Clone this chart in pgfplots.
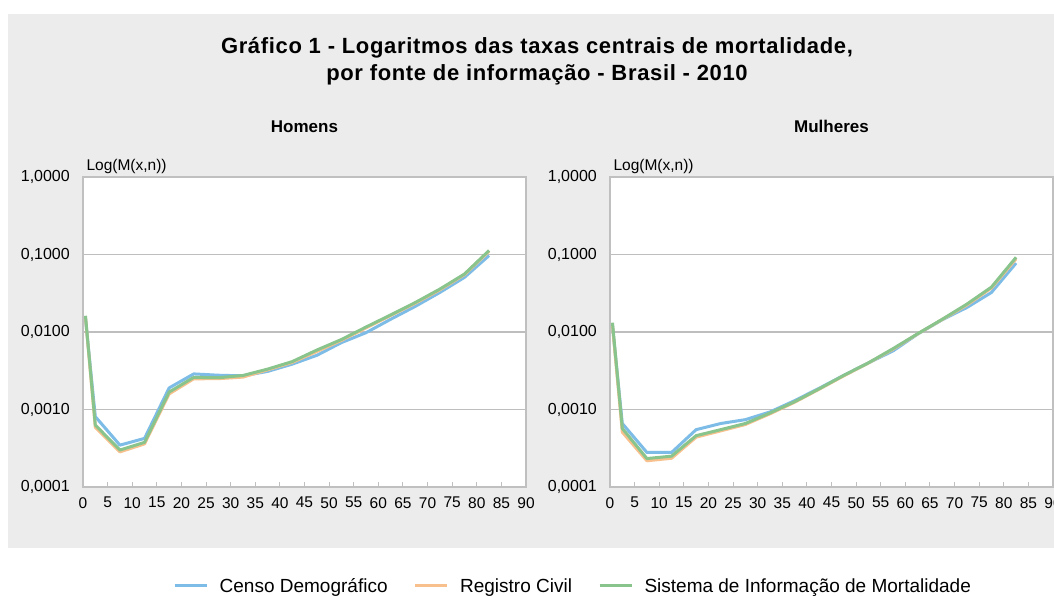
\documentclass[border=0pt]{standalone}
\usepackage{fontspec}
\setmainfont{Liberation Sans}
\newfontfamily\titlefont[LetterSpace=3]{Liberation Sans}
\usepackage{pgfplots}
\usepackage{pgfplotstable}
\pgfplotsset{compat=1.18}
\definecolor{bg}{HTML}{EBECEB}
\definecolor{cblue}{HTML}{7DBCE6}
\definecolor{corange}{HTML}{F8C08C}
\definecolor{cgreen}{HTML}{88C48C}
\definecolor{gridc}{HTML}{BEBEBE}
\definecolor{axc}{HTML}{C0C0C0}

\pgfplotstableread{
x censo registro sim
0.5 0.0150 0.0155 0.0162
2.5 0.00081 0.00059 0.00063
7.5 0.000347 0.000284 0.000300
12.5 0.000424 0.000360 0.000377
17.5 0.00190 0.00159 0.00168
22.5 0.00288 0.00249 0.00260
27.5 0.00277 0.00250 0.00257
32.5 0.00272 0.00262 0.00275
37.5 0.00310 0.00325 0.00332
42.5 0.00385 0.00405 0.00415
47.5 0.00500 0.00560 0.00585
52.5 0.00730 0.00780 0.00800
57.5 0.00980 0.01130 0.01160
62.5 0.01460 0.01630 0.01660
67.5 0.02140 0.02350 0.02400
72.5 0.03240 0.03500 0.03580
77.5 0.05070 0.05500 0.05600
82.5 0.09700 0.11000 0.11270
}\homens

\pgfplotstableread{
x censo registro sim
0.5 0.0120 0.0122 0.0132
2.5 0.00066 0.00051 0.00057
7.5 0.000279 0.000218 0.000233
12.5 0.000279 0.000235 0.000250
17.5 0.00055 0.00044 0.00046
22.5 0.00066 0.00053 0.00055
27.5 0.00074 0.00064 0.00066
32.5 0.00093 0.00088 0.00090
37.5 0.00130 0.00124 0.00126
42.5 0.00188 0.00183 0.00185
47.5 0.00276 0.00272 0.00276
52.5 0.00400 0.00398 0.00400
57.5 0.00570 0.00600 0.00610
62.5 0.00940 0.00945 0.00950
67.5 0.01440 0.01450 0.01460
72.5 0.02070 0.02230 0.02290
77.5 0.03240 0.03700 0.03800
82.5 0.07750 0.08800 0.09200
}\mulheres

\pgfplotsset{every axis/.append style={
  scale only axis, width=443pt, height=310pt,
  xmin=0, xmax=90, ymin=1e-4, ymax=1,
  xtick={0,5,...,90},
  ytick={1e-4,1e-3,1e-2,1e-1,1},
  yticklabels={{0,0001},{0,0010},{0,0100},{0,1000},{1,0000}},
  /pgf/number format/assume math mode=true,
  axis background/.style={fill=white},
  axis line style={axc, line width=1.2pt},
  ymajorgrids, major grid style={gridc, line width=1.2pt},
  tick align=inside, tick pos=left,
  major tick length=5pt,
  ytick style={draw=none},
  xtick style={axc, line width=1pt},
  yticklabel style={font=\fontsize{16}{16}\selectfont, anchor=east, inner sep=0pt, xshift=-13pt},
  xticklabel style={font=\fontsize{15.5}{15.5}\selectfont, anchor=north, inner sep=0pt, yshift=-10pt},
  ylabel={Log(M(x,n))},
}}

\begin{document}
\begin{tikzpicture}
\fill[bg] (8pt,-14pt) rectangle (1060pt,-548pt);
\node[anchor=base, font=\titlefont\bfseries\fontsize{22}{22}\selectfont] at (537pt,-53pt) {Gráfico 1 - Logaritmos das taxas centrais de mortalidade,};
\node[anchor=base, font=\titlefont\bfseries\fontsize{22}{22}\selectfont] at (537pt,-80pt) {por fonte de informação - Brasil - 2010};

\begin{axis}[ymode=log, anchor=south west, at={(83pt,-487pt)}, title={Homens},
  every axis y label/.style={at={(rel axis cs:0,1)}, anchor=base west, yshift=7pt, font=\fontsize{15.5}{15.5}\selectfont},
  every axis title/.style={at={(rel axis cs:0.5,1)}, anchor=base, yshift=45pt, font=\bfseries\fontsize{17}{17}\selectfont},
  legend columns=3,
  legend style={at={(rel axis cs:0.2032,-0.319)}, anchor=west, draw=none, fill=none,
    inner sep=0pt, font=\fontsize{19}{19}\selectfont,
    /tikz/every even column/.append style={column sep=24pt}},
  legend image code/.code={\draw[#1, line width=3pt] (0pt,0pt) -- (32pt,0pt); \path[draw=none, fill=none] (0pt,0pt) -- (43pt,0pt);},
]
\addplot[cblue, line width=3pt, line join=round, no markers] table[x=x, y=censo] {\homens};
\addplot[corange, line width=3pt, line join=round, no markers] table[x=x, y=registro] {\homens};
\addplot[cgreen, line width=3pt, line join=round, no markers] table[x=x, y=sim] {\homens};
\legend{Censo Demográfico, Registro Civil, Sistema de Informação de Mortalidade}
\end{axis}

\begin{axis}[ymode=log, anchor=south west, at={(610pt,-487pt)}, title={Mulheres},
  every axis y label/.style={at={(rel axis cs:0,1)}, anchor=base west, yshift=7pt, font=\fontsize{15.5}{15.5}\selectfont},
  every axis title/.style={at={(rel axis cs:0.5,1)}, anchor=base, yshift=45pt, font=\bfseries\fontsize{17}{17}\selectfont},
]
\addplot[cblue, line width=3pt, line join=round, no markers] table[x=x, y=censo] {\mulheres};
\addplot[corange, line width=3pt, line join=round, no markers] table[x=x, y=registro] {\mulheres};
\addplot[cgreen, line width=3pt, line join=round, no markers] table[x=x, y=sim] {\mulheres};
\end{axis}

\pgfresetboundingbox
\path[use as bounding box] (0pt,0pt) rectangle (1054pt,-595pt);
\end{tikzpicture}
\end{document}
